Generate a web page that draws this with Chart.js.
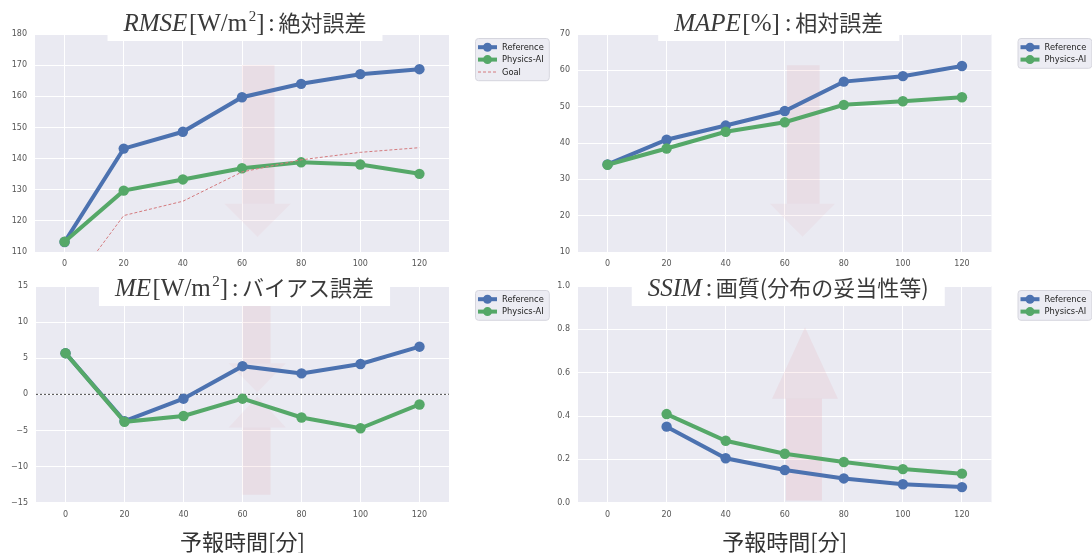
<!DOCTYPE html>
<html>
<head>
<meta charset="utf-8">
<script src="https://cdn.jsdelivr.net/npm/chart.js@4.4.1/dist/chart.umd.min.js"></script>
<style>
  body { margin: 0; background: #fff; }
  #wrap { position: relative; width: 1092px; height: 553px; overflow: hidden; }
  canvas { position: absolute; }
</style>
</head>
<body>
<div id="wrap">
  <canvas id="rmse" width="550" height="272" style="left:0;top:0"></canvas>
  <canvas id="mape" width="546" height="272" style="left:546px;top:0"></canvas>
  <canvas id="me" width="550" height="281" style="left:0;top:272px"></canvas>
  <canvas id="ssim" width="546" height="281" style="left:546px;top:272px"></canvas>
</div>
<script>
// lead time [min]
const leadTimes = [0, 20, 40, 60, 80, 100, 120];

const rmseReference = [113.2, 143.2, 148.6, 159.7, 164.0, 167.1, 168.7];
const rmsePhysicsAI = [113.3, 129.7, 133.3, 136.9, 138.8, 138.1, 135.1];
const rmseGoal = [96.2, 121.7, 126.3, 135.7, 139.6, 142.0, 143.5];

const mapeReference = [34.1, 40.9, 44.8, 48.8, 56.9, 58.4, 61.2];
const mapePhysicsAI = [34.0, 38.5, 43.1, 45.7, 50.5, 51.5, 52.6];

const meReference = [5.7, -3.7, -0.6, 3.9, 2.9, 4.2, 6.6];
const mePhysicsAI = [5.7, -3.8, -3.0, -0.6, -3.2, -4.7, -1.4];

const ssimReference = [null, 0.351, 0.205, 0.151, 0.112, 0.085, 0.072];
const ssimPhysicsAI = [null, 0.409, 0.286, 0.226, 0.188, 0.155, 0.134];

const BLUE = '#4C72B0';
const GREEN = '#55A868';
const GOAL_RED = '#d47a7e';
const SERIF = '"Liberation Serif", "DejaVu Serif", serif';
const CJK = '"Noto Sans CJK JP", "Noto Sans", sans-serif';
const TICK_FONT = { family: '"DejaVu Sans", sans-serif', size: 8 };

const pts = arr => leadTimes.map((x, i) => ({ x: x, y: arr[i] }));

// seaborn darkgrid background
const plotBackground = {
    id: 'plotBackground',
    beforeDraw(chart) {
        const { ctx, chartArea: a } = chart;
        ctx.save();
        ctx.fillStyle = '#EAEAF2';
        ctx.fillRect(a.left, a.top, a.right - a.left, a.bottom - a.top);
        ctx.restore();
    }
};

// faint pink arrows, given in data units
const pinkArrows = {
    id: 'pinkArrows',
    beforeDatasetsDraw(chart, args, opts) {
        if (!opts.arrows) return;
        const { ctx, scales: { x, y }, chartArea: a } = chart;
        ctx.save();
        ctx.beginPath();
        ctx.rect(a.left, a.top, a.right - a.left, a.bottom - a.top);
        ctx.clip();
        opts.arrows.forEach(ar => {
            const sx0 = x.getPixelForValue(ar.shaft[0]), sx1 = x.getPixelForValue(ar.shaft[1]);
            const hx0 = x.getPixelForValue(ar.head[0]), hx1 = x.getPixelForValue(ar.head[1]);
            const yTail = y.getPixelForValue(ar.tail);
            const yBase = y.getPixelForValue(ar.base);
            const yTip = y.getPixelForValue(ar.tip);
            // shaft
            ctx.fillStyle = ar.color;
            ctx.fillRect(sx0, Math.min(yTail, yBase), sx1 - sx0, Math.abs(yBase - yTail));
            // head
            ctx.fillStyle = ar.headColor || ar.color;
            ctx.beginPath();
            ctx.moveTo(hx0, yBase);
            ctx.lineTo((hx0 + hx1) / 2, yTip);
            ctx.lineTo(hx1, yBase);
            ctx.closePath();
            ctx.fill();
        });
        ctx.restore();
    }
};

// dotted horizontal reference line
const zeroLine = {
    id: 'zeroLine',
    beforeDatasetsDraw(chart, args, opts) {
        if (opts.value === undefined) return;
        const { ctx, scales: { y }, chartArea: a } = chart;
        const py = y.getPixelForValue(opts.value);
        ctx.save();
        ctx.strokeStyle = '#444';
        ctx.lineWidth = 1;
        ctx.setLineDash([2, 2]);
        ctx.beginPath();
        ctx.moveTo(a.left, py);
        ctx.lineTo(a.right, py);
        ctx.stroke();
        ctx.restore();
    }
};

// title with math part, drawn in a white box over the top of the plot
const mathTitle = {
    id: 'mathTitle',
    afterDraw(chart, args, opts) {
        if (!opts.parts) return;
        const { ctx, chartArea: a } = chart;
        ctx.save();
        let w = 0;
        const parts = opts.parts.map(p => {
            ctx.font = p.font;
            const pw = ctx.measureText(p.text).width + (p.gap || 0);
            w += pw;
            return Object.assign({ pw: pw }, p);
        });
        const cx = (a.left + a.right) / 2 + (opts.shift || 0);
        const pad = 16;
        ctx.fillStyle = '#ffffff';
        ctx.fillRect(cx - w / 2 - pad, 0, w + pad * 2, opts.baseline + 10);
        ctx.fillStyle = '#3a3a3a';
        ctx.textBaseline = 'alphabetic';
        ctx.textAlign = 'left';
        let x = cx - w / 2;
        parts.forEach(p => {
            ctx.font = p.font;
            ctx.fillText(p.text, x + (p.gap || 0) / 2, opts.baseline + (p.dy || 0));
            x += p.pw;
        });
        ctx.restore();
    }
};

// legend box to the right of the plot, matplotlib style
const sideLegend = {
    id: 'sideLegend',
    afterDraw(chart) {
        const { ctx, chartArea: a } = chart;
        const items = chart.data.datasets;
        const x = a.right + 26;
        const y = a.top + 4;
        const rowH = 12.4;
        ctx.save();
        ctx.font = '8.3px "DejaVu Sans", sans-serif';
        const textW = Math.max(...items.map(d => ctx.measureText(d.label).width));
        const w = 3 + 19 + 5 + textW + 5;
        const h = items.length * rowH + 5;
        ctx.fillStyle = 'rgba(234,234,242,0.9)';
        ctx.strokeStyle = '#d6d6de';
        ctx.lineWidth = 1;
        ctx.beginPath();
        ctx.roundRect(x + 0.5, y + 0.5, w, h, 3);
        ctx.fill();
        ctx.stroke();
        items.forEach((d, i) => {
            const cy = y + 3 + rowH * (i + 0.5);
            ctx.strokeStyle = d.borderColor;
            ctx.lineWidth = d.borderWidth;
            ctx.setLineDash(d.borderDash || []);
            ctx.beginPath();
            ctx.moveTo(x + 3, cy);
            ctx.lineTo(x + 22, cy);
            ctx.stroke();
            ctx.setLineDash([]);
            if (d.pointRadius > 0) {
                ctx.fillStyle = d.borderColor;
                ctx.beginPath();
                ctx.arc(x + 12.5, cy, 4.5, 0, Math.PI * 2);
                ctx.fill();
            }
            ctx.fillStyle = '#222';
            ctx.textBaseline = 'middle';
            ctx.fillText(d.label, x + 27, cy + 0.5);
        });
        ctx.restore();
    }
};

function seriesSet(ref, ai, goal) {
    const sets = [
        { label: 'Reference', data: pts(ref), borderColor: BLUE, backgroundColor: BLUE,
          borderWidth: 4, pointRadius: 5.2, pointBorderWidth: 0, order: 2 },
        { label: 'Physics-AI', data: pts(ai), borderColor: GREEN, backgroundColor: GREEN,
          borderWidth: 4, pointRadius: 5.2, pointBorderWidth: 0, order: 1 }
    ];
    if (goal) {
        sets.push({ label: 'Goal', data: pts(goal), borderColor: GOAL_RED, backgroundColor: GOAL_RED,
            borderWidth: 1, borderDash: [3, 2], pointRadius: 0, order: 0 });
    }
    return sets;
}

function buildChart(id, cfg) {
    return new Chart(document.getElementById(id), {
        type: 'line',
        data: { datasets: cfg.datasets },
        options: {
            responsive: false,
            animation: false,
            devicePixelRatio: 1,
            layout: { padding: cfg.padding },
            elements: { line: { tension: 0 } },
            scales: {
                x: {
                    type: 'linear',
                    min: -10,
                    max: 130,
                    afterBuildTicks: s => { s.ticks = leadTimes.map(v => ({ value: v })); },
                    afterFit: s => { s.height = cfg.xHeight; },
                    grid: { color: '#ffffff', lineWidth: 1, drawTicks: false },
                    border: { display: false },
                    ticks: { font: TICK_FONT, color: '#555', padding: 7, maxRotation: 0 },
                    title: {
                        display: !!cfg.xTitle,
                        text: cfg.xTitle || '',
                        font: { family: CJK, size: 22, lineHeight: 1 },
                        color: '#333',
                        padding: 0
                    }
                },
                y: {
                    min: cfg.yMin,
                    max: cfg.yMax,
                    afterFit: s => { s.width = cfg.yWidth; },
                    grid: { color: '#ffffff', lineWidth: 1, drawTicks: false },
                    border: { display: false },
                    ticks: {
                        stepSize: cfg.yStep,
                        font: TICK_FONT,
                        color: '#555',
                        padding: 8,
                        callback: cfg.yFormat
                    }
                }
            },
            plugins: {
                legend: { display: false },
                tooltip: { enabled: false },
                mathTitle: cfg.title,
                pinkArrows: { arrows: cfg.arrows },
                zeroLine: { value: cfg.refLine }
            }
        },
        plugins: [plotBackground, pinkArrows, zeroLine, mathTitle, sideLegend]
    });
}

const titleTop = 31;
const titleBottom = 24;
const SERIF_IT = 'italic 25px ' + SERIF;
const SERIF_RM = '25px ' + SERIF;
const SUP = '15px ' + SERIF;
const JP = '22px ' + CJK;
const SHAFT = 'rgba(225,130,140,0.12)';
const HEAD = 'rgba(225,130,140,0.07)';
const minusFmt = v => (v < 0 ? '\u2212' + Math.abs(v) : String(v));

buildChart('rmse', {
    datasets: seriesSet(rmseReference, rmsePhysicsAI, rmseGoal),
    padding: { left: 0, top: 34, right: 101, bottom: 0 },
    yWidth: 35, xHeight: 20,
    yMin: 110, yMax: 180, yStep: 10,
    title: {
        baseline: titleTop, shift: 3,
        parts: [
            { text: 'RMSE', font: SERIF_IT },
            { text: '[W/m', font: SERIF_RM, gap: 3 },
            { text: '2', font: SUP, dy: -10 },
            { text: ']', font: SERIF_RM },
            { text: ':', font: SERIF_RM, gap: 7 },
            { text: '絶対誤差', font: JP }
        ]
    },
    arrows: [
        { shaft: [60, 71], head: [54, 76.5], tail: 170, base: 125.5, tip: 114.8, color: SHAFT, headColor: HEAD }
    ]
});

buildChart('mape', {
    datasets: seriesSet(mapeReference, mapePhysicsAI),
    padding: { left: 0, top: 34, right: 100.5, bottom: 0 },
    yWidth: 32, xHeight: 20,
    yMin: 10, yMax: 70, yStep: 10,
    title: {
        baseline: titleTop, shift: -6,
        parts: [
            { text: 'MAPE', font: SERIF_IT },
            { text: '[%]', font: SERIF_RM, gap: 3 },
            { text: ':', font: SERIF_RM, gap: 7 },
            { text: '相対誤差', font: JP }
        ]
    },
    arrows: [
        { shaft: [60.7, 71.8], head: [55, 77], tail: 61.4, base: 23.3, tip: 14.2, color: SHAFT, headColor: HEAD }
    ]
});

buildChart('me', {
    datasets: seriesSet(meReference, mePhysicsAI),
    padding: { left: 0, top: 14, right: 101, bottom: 0 },
    yWidth: 36, xHeight: 50.3,
    yMin: -15, yMax: 15, yStep: 5,
    yFormat: minusFmt,
    refLine: 0,
    xTitle: '予報時間[分]',
    title: {
        baseline: titleBottom, shift: 2,
        parts: [
            { text: 'ME', font: SERIF_IT },
            { text: '[W/m', font: SERIF_RM, gap: 3 },
            { text: '2', font: SUP, dy: -10 },
            { text: ']', font: SERIF_RM },
            { text: ':', font: SERIF_RM, gap: 7 },
            { text: 'バイアス誤差', font: JP }
        ]
    },
    arrows: [
        { shaft: [60, 69.5], head: [55.3, 74.7], tail: 12.9, base: 4.3, tip: 0.3, color: SHAFT, headColor: HEAD },
        { shaft: [60, 69.5], head: [55.3, 74.7], tail: -13.9, base: -4.6, tip: -0.3, color: SHAFT, headColor: HEAD }
    ]
});

buildChart('ssim', {
    datasets: seriesSet(ssimReference, ssimPhysicsAI),
    padding: { left: 0, top: 14, right: 100.5, bottom: 0 },
    yWidth: 32, xHeight: 50.3,
    yMin: 0, yMax: 1, yStep: 0.2,
    yFormat: v => v.toFixed(1),
    xTitle: '予報時間[分]',
    title: {
        baseline: titleBottom, shift: 3.5,
        parts: [
            { text: 'SSIM', font: SERIF_IT },
            { text: ':', font: SERIF_RM, gap: 7 },
            { text: '画質(分布の妥当性等)', font: JP }
        ]
    },
    arrows: [
        { shaft: [60.4, 72.6], head: [55.7, 78], tail: 0.01, base: 0.48, tip: 0.81,
          color: 'rgba(225,130,140,0.15)', headColor: 'rgba(225,130,140,0.11)' }
    ]
});
</script>
</body>
</html>
